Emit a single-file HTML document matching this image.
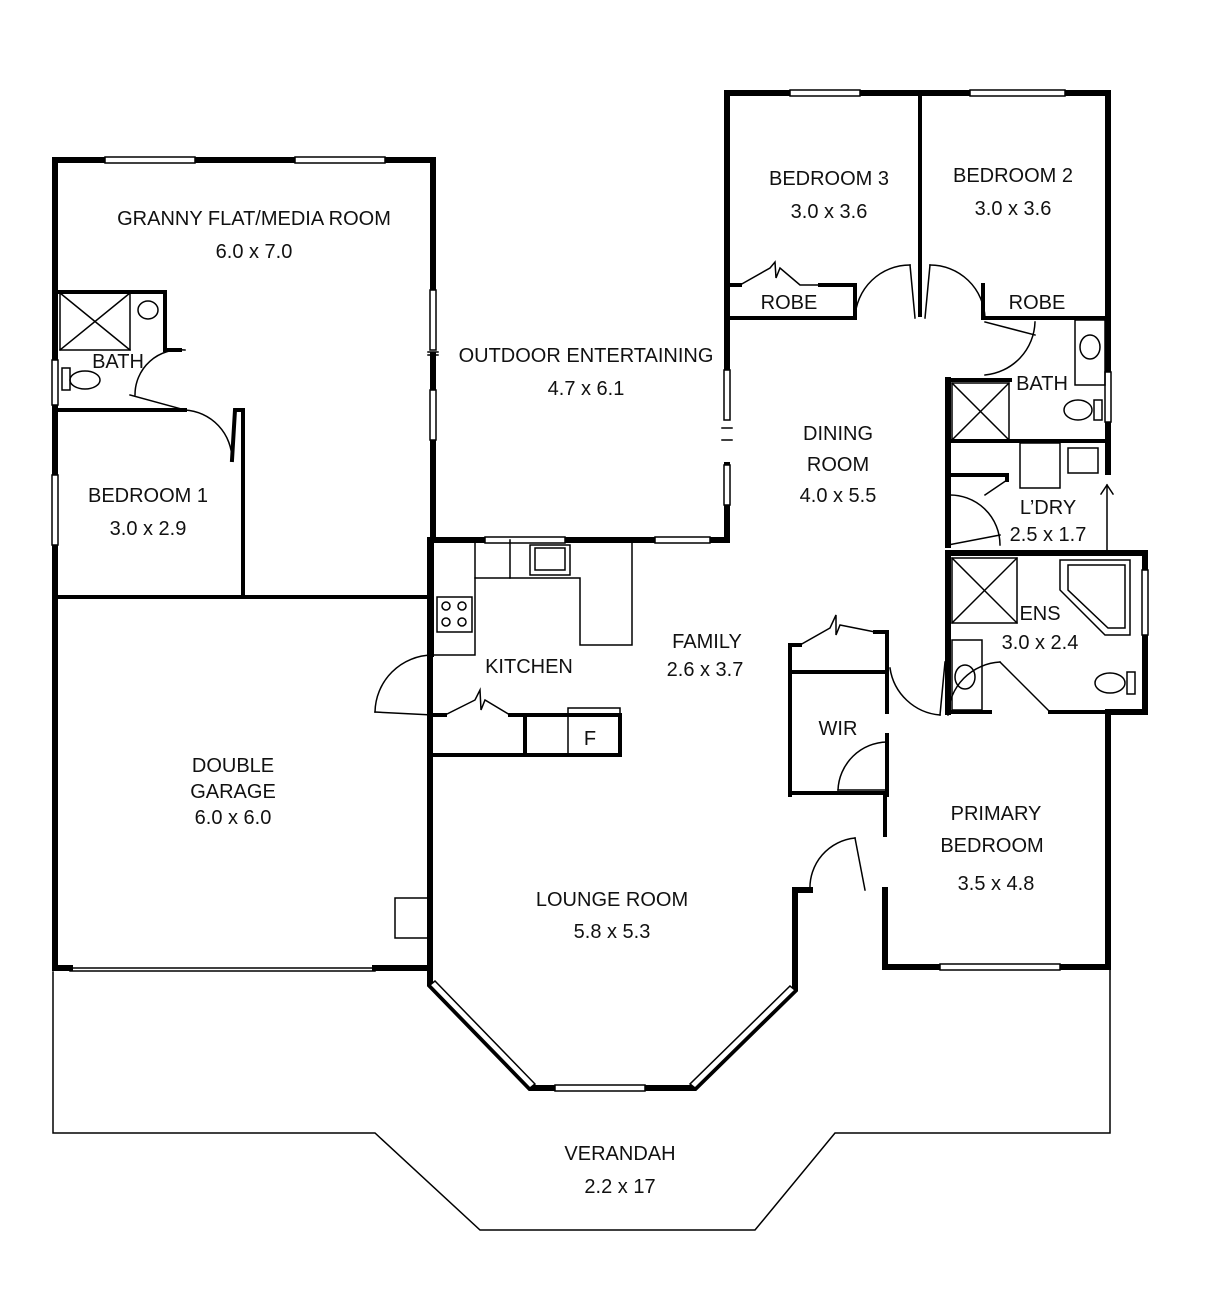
<!DOCTYPE html>
<html><head><meta charset="utf-8"><style>
html,body{margin:0;padding:0;background:#fff}
svg{display:block}
text{font-family:"Liberation Sans",sans-serif;font-size:20px;fill:#111;text-anchor:middle}
</style></head><body>
<svg width="1207" height="1315" viewBox="0 0 1207 1315" xmlns="http://www.w3.org/2000/svg">
<g fill="none" stroke="#000" stroke-linecap="square">
<polyline points="53,972 53,1133 375,1133 480,1230 755,1230 835,1133 1110,1133 1110,970" stroke-width="1.5"/>
<g stroke-width="6">
<polyline points="55,965 55,160 433,160 433,290"/>
<line x1="433" y1="440" x2="433" y2="540"/>
<line x1="433" y1="355" x2="433" y2="390"/>
<polyline points="433,540 727,540 727,465"/>
<polyline points="727,370 727,93 1108,93 1108,472"/>
<polyline points="948,380 948,545"/>
<polyline points="948,553 1145,553 1145,712 1108,712 1108,967 885,967 885,890"/>
<line x1="948" y1="553" x2="948" y2="712"/>
<polyline points="795,890 810,890"/>
<polyline points="795,890 795,990 695,1088 530,1088 430,985 430,540"/>
<polyline points="55,968 70,968"/><polyline points="375,968 430,968"/>
</g>
<g stroke-width="1.5" fill="#fff">
<rect x="105" y="157" width="90" height="6"/><rect x="295" y="157" width="90" height="6"/>
<rect x="790" y="90" width="70" height="6"/><rect x="970" y="90" width="95" height="6"/>
<rect x="52" y="360" width="6" height="45"/><rect x="52" y="475" width="6" height="70"/>
<rect x="430" y="290" width="6" height="60"/><rect x="430" y="390" width="6" height="50"/>
<rect x="724" y="370" width="6" height="50"/><rect x="724" y="465" width="6" height="40"/>
<rect x="485" y="537" width="80" height="6"/><rect x="655" y="537" width="55" height="6"/>
<rect x="1105" y="372" width="6" height="50"/><rect x="1142" y="570" width="6" height="65"/>
<rect x="940" y="964" width="120" height="6"/>
<rect x="555" y="1085" width="90" height="6"/>
</g>
<g stroke-width="1.5">
<line x1="70" y1="968" x2="375" y2="968"/><line x1="70" y1="971" x2="375" y2="971"/>
<polygon points="430,985 530,1088 535,1084 435,981" fill="#fff"/>
<polygon points="695,1088 795,990 790,986 690,1084" fill="#fff"/>
<line x1="428" y1="352" x2="438" y2="352"/><line x1="428" y1="355" x2="438" y2="355"/>
<line x1="722" y1="428" x2="732" y2="428"/><line x1="722" y1="440" x2="732" y2="440"/>
</g>
<g stroke-width="4">
<polyline points="55,410 185,410"/>
<polyline points="55,292 165,292 165,350 180,350"/>
<line x1="55" y1="597" x2="430" y2="597"/>
<polyline points="243,595 243,410 235,410 232,460"/>
<line x1="920" y1="93" x2="920" y2="315"/>
<polyline points="727,318 855,318 855,285 820,285"/>
<polyline points="727,285 740,285"/>
<polyline points="983,285 983,318 1108,318"/>
<line x1="948" y1="441" x2="1108" y2="441"/>
<polyline points="948,380 1010,380"/>
<polyline points="948,475 1007,475 1007,480"/>
<polyline points="790,795 790,645 800,645"/><polyline points="875,632 887,632 887,672"/>
<line x1="790" y1="672" x2="887" y2="672"/>
<line x1="790" y1="793" x2="887" y2="793"/>
<line x1="887" y1="735" x2="887" y2="795"/>
<polyline points="885,795 885,835"/>
<polyline points="887,712 887,670"/>
<polyline points="948,712 990,712"/><polyline points="1050,712 1108,712"/>
<polyline points="432,715 445,715"/><polyline points="510,715 525,715 525,755"/>
<line x1="432" y1="755" x2="620" y2="755"/>
<polyline points="525,715 620,715 620,755"/>
<line x1="432" y1="540" x2="432" y2="655"/>
</g>
<g stroke-width="1.5">
<rect x="60" y="293" width="70" height="57"/><line x1="60" y1="293" x2="130" y2="350"/><line x1="130" y1="293" x2="60" y2="350"/>
<ellipse cx="148" cy="310" rx="10" ry="9"/>
<ellipse cx="85" cy="380" rx="15" ry="9"/><rect x="62" y="368" width="8" height="22"/>
<polyline points="130,395 185,410"/><path d="M185,350 A45,45 0 0 0 135,395"/>
<path d="M185,410 A50,50 0 0 1 232,460"/>
<rect x="952" y="383" width="57" height="57"/><line x1="952" y1="383" x2="1009" y2="440"/><line x1="1009" y1="383" x2="952" y2="440"/>
<rect x="1075" y="320" width="30" height="65"/><ellipse cx="1090" cy="347" rx="10" ry="12"/>
<ellipse cx="1078" cy="410" rx="14" ry="10"/><rect x="1094" y="400" width="8" height="20"/>
<rect x="1020" y="443" width="40" height="45"/><rect x="1068" y="448" width="30" height="25"/>
<rect x="952" y="558" width="65" height="65"/><line x1="952" y1="558" x2="1017" y2="623"/><line x1="1017" y1="558" x2="952" y2="623"/>
<polygon points="1060,560 1130,560 1130,635 1105,635 1060,590"/><polygon points="1068,565 1125,565 1125,628 1108,628 1068,590"/>
<rect x="952" y="640" width="30" height="70"/><ellipse cx="965" cy="677" rx="10" ry="12"/>
<ellipse cx="1110" cy="683" rx="15" ry="10"/><rect x="1127" y="672" width="8" height="22"/>
<line x1="1107" y1="485" x2="1107" y2="550"/><polyline points="1101,494 1107,485 1113,494"/>
<path d="M855,318 A55,55 0 0 1 910,265"/><line x1="910" y1="265" x2="915" y2="318"/>
<path d="M985,318 A55,55 0 0 0 930,265"/><line x1="930" y1="265" x2="925" y2="318"/>
<path d="M1035,322 A55,55 0 0 1 985,375"/><line x1="985" y1="322" x2="1035" y2="335"/>
<path d="M948,495 A50,50 0 0 1 1000,545"/><line x1="948" y1="545" x2="1000" y2="535"/>
<path d="M948,715 A55,55 0 0 1 1000,662"/><line x1="1000" y1="662" x2="1050" y2="712"/>
<path d="M890,668 A55,55 0 0 0 940,715"/><line x1="940" y1="715" x2="945" y2="662"/>
<path d="M887,742 A50,50 0 0 0 838,790"/><line x1="838" y1="790" x2="887" y2="790"/>
<path d="M810,890 A50,50 0 0 1 855,838"/><line x1="855" y1="838" x2="865" y2="890"/>
<path d="M432,655 A58,58 0 0 0 375,712"/><line x1="375" y1="712" x2="432" y2="715"/>
<polyline points="740,285 770,268 775,262 776,278 780,268 800,285 820,285"/>
<polyline points="800,645 830,628 836,615 836,635 840,625 875,632"/>
<polyline points="445,715 475,700 480,690 481,710 485,700 510,715"/>
<polyline points="475,540 475,578 510,578 510,540"/><polyline points="510,578 580,578 580,645 632,645 632,540"/>
<polyline points="475,578 475,655 432,655"/>
<rect x="530" y="545" width="40" height="30"/><rect x="535" y="548" width="30" height="22"/>
<rect x="437" y="597" width="35" height="35"/>
<circle cx="446" cy="606" r="4"/><circle cx="462" cy="606" r="4"/><circle cx="446" cy="622" r="4"/><circle cx="462" cy="622" r="4"/>
<rect x="568" y="708" width="52" height="47"/>
<rect x="395" y="898" width="35" height="40"/>
<line x1="1007" y1="480" x2="985" y2="495"/>
</g>
</g>
<text x="254" y="225">GRANNY FLAT/MEDIA ROOM</text><text x="254" y="258">6.0 x 7.0</text>
<text x="118" y="368">BATH</text>
<text x="148" y="502">BEDROOM 1</text><text x="148" y="535">3.0 x 2.9</text>
<text x="586" y="362">OUTDOOR ENTERTAINING</text><text x="586" y="395">4.7 x 6.1</text>
<text x="829" y="185">BEDROOM 3</text><text x="829" y="218">3.0 x 3.6</text>
<text x="1013" y="182">BEDROOM 2</text><text x="1013" y="215">3.0 x 3.6</text>
<text x="789" y="309">ROBE</text><text x="1037" y="309">ROBE</text>
<text x="1042" y="390">BATH</text>
<text x="838" y="440">DINING</text><text x="838" y="471">ROOM</text><text x="838" y="502">4.0 x 5.5</text>
<text x="1048" y="514">L’DRY</text><text x="1048" y="541">2.5 x 1.7</text>
<text x="1040" y="620">ENS</text><text x="1040" y="649">3.0 x 2.4</text>
<text x="707" y="648">FAMILY</text><text x="705" y="676">2.6 x 3.7</text>
<text x="529" y="673">KITCHEN</text>
<text x="590" y="745">F</text>
<text x="838" y="735">WIR</text>
<text x="233" y="772">DOUBLE</text><text x="233" y="798">GARAGE</text><text x="233" y="824">6.0 x 6.0</text>
<text x="996" y="820">PRIMARY</text><text x="992" y="852">BEDROOM</text><text x="996" y="890">3.5 x 4.8</text>
<text x="612" y="906">LOUNGE ROOM</text><text x="612" y="938">5.8 x 5.3</text>
<text x="620" y="1160">VERANDAH</text><text x="620" y="1193">2.2 x 17</text>
</svg>
</body></html>
